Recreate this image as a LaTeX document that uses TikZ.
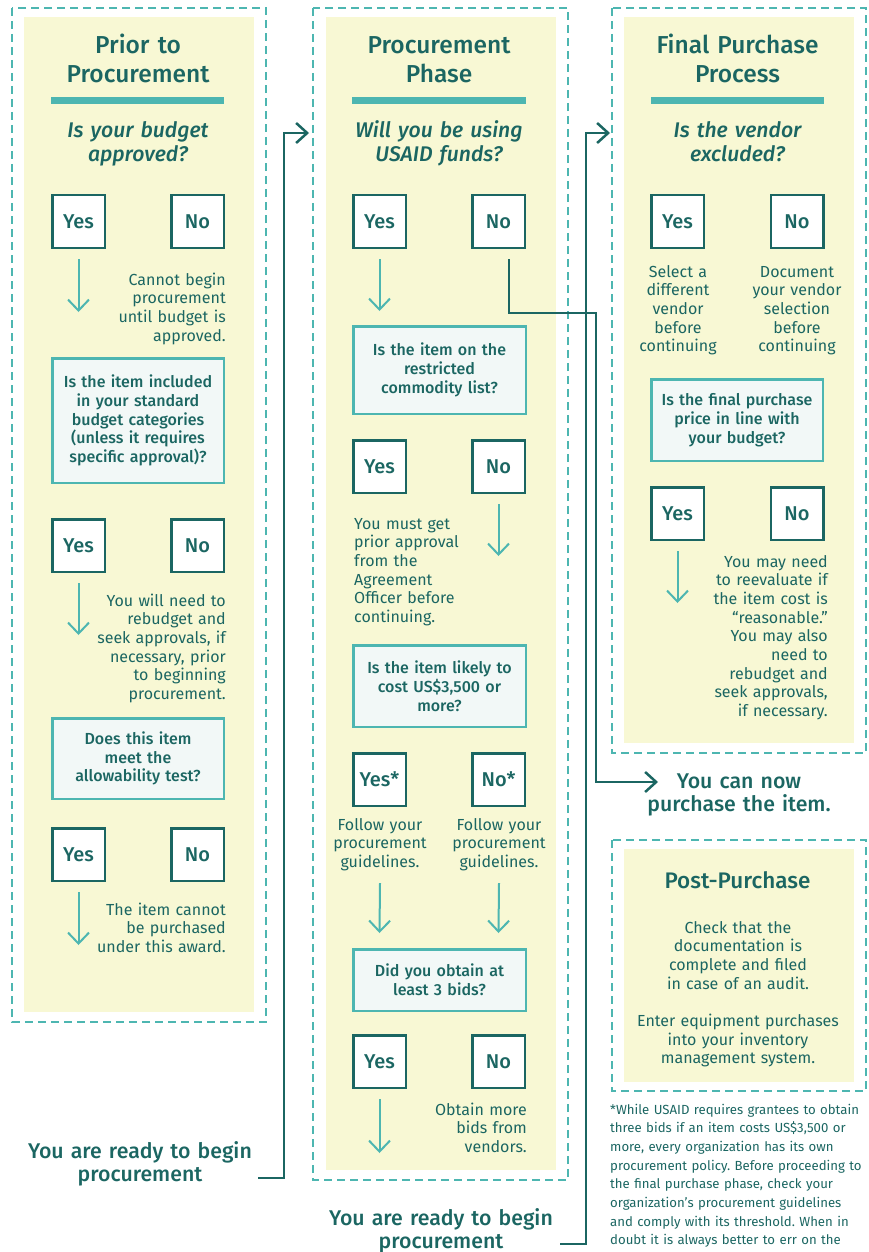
\documentclass[tikz,border=0pt]{standalone}
\usepackage{fontspec}
\setmainfont{Fira Sans}[BoldFont={Fira Sans Medium},BoldItalicFont={Fira Sans Medium Italic}]
\usetikzlibrary{arrows.meta,calc}
\definecolor{ink}{HTML}{1B6662}
\definecolor{aqua}{HTML}{4DB6B1}
\definecolor{cream}{HTML}{F8F8D4}
\definecolor{mist}{HTML}{F2F8F7}
\frenchspacing
\tikzset{
  panel/.style={draw=aqua, line width=2.5pt, dash pattern=on 8pt off 5pt},
  paper/.style={fill=cream},
  bar/.style={fill=aqua},
  heading/.style={font=\fontsize{24.5}{28.5}\selectfont\bfseries, text=ink,
    text width=230pt, align=center, anchor=base, inner sep=0pt},
  ask/.style={font=\fontsize{21.2}{24}\selectfont\bfseries\itshape, text=ink,
    text width=230pt, align=center, anchor=base, inner sep=0pt},
  answer/.style={draw=ink, fill=white, line width=2.5pt, minimum size=52.5pt,
    inner sep=0pt, font=\fontsize{20}{24}\selectfont\bfseries, text=ink},
  query/.style={draw=aqua, fill=mist, line width=2.5pt, inner sep=0pt,
    font=\fontsize{16}{18.8}\selectfont\bfseries, text=ink, align=center,
    text width=166pt},
  note/.style={font=\fontsize{16}{18.7}\selectfont, text=ink, inner sep=0pt,
    text width=190pt},
  ready/.style={font=\fontsize{21.3}{23.5}\selectfont\bfseries, text=ink,
    text width=260pt, align=center, anchor=base, inner sep=0pt},
  foot/.style={font=\fontsize{13.2}{18.7}\selectfont, text=ink, inner sep=0pt,
    text width=300pt, align=left, anchor=base west},
  down/.style={draw=aqua, line width=2pt, -{Straight Barb[length=11pt,width=21pt]}},
  link/.style={draw=ink, line width=2.5pt},
  linkarrow/.style={link, -{Straight Barb[length=11pt,width=20pt]}},
}
\begin{document}
\begin{tikzpicture}[x=1pt,y=-1pt]
\useasboundingbox (0,0) rectangle (869,1252);

% ---------- panels ----------
\fill[paper] (24,17) rectangle (254,1012);
\draw[panel] (12,8) rectangle (266,1022);
\fill[paper] (326,17) rectangle (556,1170);
\draw[panel] (313,8) rectangle (568,1180);
\fill[paper] (624,17) rectangle (854,743);
\draw[panel] (612,8) rectangle (866,753);
\fill[paper] (624,849) rectangle (854,1082);
\draw[panel] (612,840) rectangle (866,1091);

% ---------- column 1: prior to procurement ----------
\node[heading] (h1) at (138,54) {Prior to\\Procurement};
\fill[bar] (51,97) rectangle (224,104);
\node[ask] (q1) at (138,138) {Is your budget\\approved?};
\node[answer] (y1a) at (78.5,221.5) {Yes};
\node[answer] (n1a) at (197.5,221.5) {No};
\coordinate (e1a) at (78.5,312);
\draw[down] ($(y1a.south)+(0,10)$) -- (e1a);
\node[note, align=right, anchor=base east] (t1a) at (226,285)
  {Cannot begin\\procurement\\until budget is\\approved.};
\node[query, minimum width=171.5pt, minimum height=124.5pt] (b1) at (138,420.5)
  {Is the item included\\in your standard\\budget categories\\(unless it requires\\specific approval)?};
\node[answer] (y1b) at (78.5,545.5) {Yes};
\node[answer] (n1b) at (197.5,545.5) {No};
\coordinate (e1b) at (78.5,635);
\draw[down] ($(y1b.south)+(0,10)$) -- (e1b);
\node[note, align=right, anchor=base east] (t1b) at (226,606)
  {You will need to\\rebudget and\\seek approvals, if\\necessary, prior\\to beginning\\procurement.};
\node[query, minimum width=171.5pt, minimum height=80.5pt] (b2) at (138,758.5)
  {Does this item\\meet the\\allowability test?};
\node[answer] (y1c) at (78.5,854.5) {Yes};
\node[answer] (n1c) at (197.5,854.5) {No};
\coordinate (e1c) at (78.5,945);
\draw[down] ($(y1c.south)+(0,10)$) -- (e1c);
\node[note, align=right, anchor=base east] (t1c) at (226,915)
  {The item cannot\\be purchased\\under this award.};

% ---------- column 2: procurement phase ----------
\node[heading] (h2) at (439,54) {Procurement\\Phase};
\fill[bar] (352,97) rectangle (526,104);
\node[ask] (q2) at (439,138) {Will you be using\\USAID funds?};
\node[answer] (y2a) at (379.5,221.5) {Yes};
\node[answer] (n2a) at (498.5,221.5) {No};
\coordinate (e2a) at (379.5,311);
\draw[down] ($(y2a.south)+(0,10)$) -- (e2a);
\node[query, minimum width=172.5pt, minimum height=87.5pt] (b3) at (439.5,370)
  {Is the item on the\\restricted\\commodity list?};
\node[answer] (y2b) at (379.5,466.5) {Yes};
\node[answer] (n2b) at (498.5,466.5) {No};
\coordinate (e2b) at (498.5,556);
\draw[down] ($(n2b.south)+(0,10)$) -- (e2b);
\node[note, align=left, anchor=base west] (t2b) at (354,529)
  {You must get\\prior approval\\from the\\Agreement\\Officer before\\continuing.};
\node[query, minimum width=172.5pt, minimum height=81.5pt] (b4) at (439.5,686)
  {Is the item likely to\\cost US\$3,500 or\\more?};
\node[answer] (y2c) at (379.5,779.5) {Yes*};
\node[answer] (n2c) at (498.5,779.5) {No*};
\node[note, align=center, anchor=base, text width=120pt] (t2c) at (380,830)
  {Follow your\\procurement\\guidelines.};
\node[note, align=center, anchor=base, text width=120pt] (t2d) at (499,830)
  {Follow your\\procurement\\guidelines.};
\coordinate (e2c) at (379.5,933);
\coordinate (e2d) at (498.5,933);
\draw[down] ($(t2c.south)+(0,12)$) -- (e2c);
\draw[down] ($(t2d.south)+(0,12)$) -- (e2d);
\node[query, minimum width=172.5pt, minimum height=61.5pt] (b5) at (439.5,980)
  {Did you obtain at\\least 3 bids?};
\node[answer] (y2e) at (379.5,1061.5) {Yes};
\node[answer] (n2e) at (498.5,1061.5) {No};
\coordinate (e2e) at (379.5,1153);
\draw[down] ($(y2e.south)+(0,10)$) -- (e2e);
\node[note, align=right, anchor=base east] (t2e) at (527,1115)
  {Obtain more\\bids from\\vendors.};

% ---------- column 3: final purchase process ----------
\node[heading] (h3) at (737.5,54) {Final Purchase\\Process};
\fill[bar] (651,97) rectangle (824,104);
\node[ask] (q3) at (737.5,138) {Is the vendor\\excluded?};
\node[answer] (y3a) at (677.5,221.5) {Yes};
\node[answer] (n3a) at (797,221.5) {No};
\node[note, align=center, anchor=base, text width=120pt] (t3a) at (678,277)
  {Select a\\different\\vendor\\before\\continuing};
\node[note, align=center, anchor=base, text width=120pt] (t3b) at (797,277)
  {Document\\your vendor\\selection\\before\\continuing};
\node[query, minimum width=171.5pt, minimum height=81.5pt] (b6) at (737,420)
  {Is the final purchase\\price in line with\\your budget?};
\node[answer] (y3c) at (677.5,513.5) {Yes};
\node[answer] (n3c) at (797,513.5) {No};
\coordinate (e3c) at (677.5,603);
\draw[down] ($(y3c.south)+(0,10)$) -- (e3c);
\node[note, align=right, anchor=base east] (t3c) at (828,567)
  {You may need\\to reevaluate if\\the item cost is\\“reasonable.”\\You may also\\need to\\rebudget and\\seek approvals,\\if necessary.};

% ---------- outcome and post-purchase ----------
\node[ready] (buytxt) at (739,788) {You can now\\purchase the item.};
\node[heading, font=\fontsize{22.5}{24}\selectfont\bfseries] (pp) at (737.5,888) {Post-Purchase};
\node[note, align=center, anchor=base, text width=220pt] (ppb) at (738,933)
  {Check that the\\documentation is\\complete and filed\\in case of an audit.\\[18.7pt]Enter equipment purchases\\into your inventory\\management system.};
\node[foot] (fn) at (610,1114)
  {*While USAID requires grantees to obtain\\three bids if an item costs US\$3,500 or\\more, every organization has its own\\procurement policy. Before proceeding to\\the final purchase phase, check your\\organization’s procurement guidelines\\and comply with its threshold. When in\\doubt it is always better to err on the};

% ---------- ready labels ----------
\node[ready] (r1) at (140,1158) {You are ready to begin\\procurement};
\node[ready] (r2) at (441,1225) {You are ready to begin\\procurement};

% ---------- connectors ----------
\coordinate (r1out) at (258,1178);
\coordinate (p2in) at (309,133);
\draw[linkarrow] (r1out) -| ($(p2in)+(-25,0)$) -- (p2in);
\coordinate (r2out) at (560,1244);
\coordinate (p3in) at (610,133);
\draw[linkarrow] (r2out) -| ($(p3in)+(-24,0)$) -- (p3in);
\coordinate (buy) at (658,782);
\draw[linkarrow] ($(n2a.south)+(10.5,10)$) -- ++(0,54) -| ($(buy)+(-62,0)$) -- (buy);
\end{tikzpicture}
\end{document}
